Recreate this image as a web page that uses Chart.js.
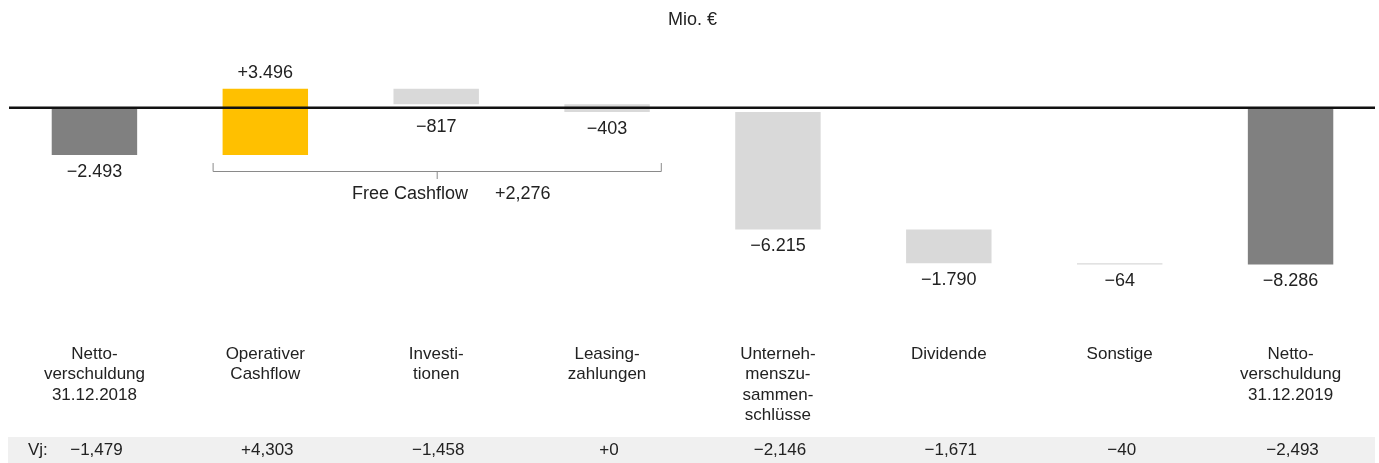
<!DOCTYPE html>
<html><head><meta charset="utf-8">
<script src="https://cdn.jsdelivr.net/npm/chart.js@4/dist/chart.umd.min.js"></script>
<style>html,body{margin:0;padding:0;background:#fff}#wrap{position:relative;width:1379px;height:463px}</style>
</head><body><div id="wrap"><canvas id="c"></canvas></div>
<script>
// ---- data ----
const categories = [
  ["Netto-","verschuldung","31.12.2018"],
  ["Operativer","Cashflow"],
  ["Investi-","tionen"],
  ["Leasing-","zahlungen"],
  ["Unterneh-","menszu-","sammen-","schlüsse"],
  ["Dividende"],
  ["Sonstige"],
  ["Netto-","verschuldung","31.12.2019"]
];
const changes = [-2493, 3496, -817, -403, -6215, -1790, -64, -8286];
const isTotal = [true, false, false, false, false, false, false, true];
const valueLabels = ["−2.493","+3.496","−817","−403","−6.215","−1.790","−64","−8.286"];
const priorYear = ["−1,479","+4,303","−1,458","+0","−2,146","−1,671","−40","−2,493"];
const priorYearLabel = "Vj:";
const freeCashflowLabel = "Free Cashflow";
const freeCashflowValue = "+2,276";
const freeCashflowRange = [1, 3];
const unitLabel = "Mio. €";

// ---- build ----
let running = 0;
const ranges = changes.map((d, i) => {
  if (isTotal[i]) { running = d; return [0, d]; }
  const s = running; running += d; return [s, running];
});
const colorTotal = "#808080", colorUp = "#FFC000", colorDown = "#D9D9D9";
const barColors = changes.map((d, i) => isTotal[i] ? colorTotal : (d > 0 ? colorUp : colorDown));

const FONT = "'Liberation Sans', Arial, sans-serif";
const TEXT = "#222222";

const overlay = {
  id: "overlay",
  beforeDraw(chart) {
    const { ctx, chartArea: a } = chart;
    ctx.save();
    ctx.fillStyle = "#F0F0F0";
    ctx.fillRect(a.left - 1, 437, a.right - a.left, 26);
    ctx.restore();
  },
  afterDatasetsDraw(chart) {
    const { ctx, chartArea: a, scales: { x, y } } = chart;
    const meta = chart.getDatasetMeta(0);
    const base = y.getPixelForValue(0);
    ctx.save();
    // baseline
    ctx.strokeStyle = "#111";
    ctx.lineWidth = 2.4;
    ctx.beginPath(); ctx.moveTo(a.left, base); ctx.lineTo(a.right - 1, base); ctx.stroke();

    ctx.fillStyle = TEXT;
    ctx.textAlign = "center";
    ctx.textBaseline = "middle";
    ctx.font = "18px " + FONT;
    // unit
    ctx.fillText(unitLabel, (a.left + a.right) / 2, 20);

    // value labels
    ranges.forEach((r, i) => {
      const cx = x.getPixelForValue(i);
      const top = y.getPixelForValue(Math.max(r[0], r[1]));
      const bot = y.getPixelForValue(Math.min(r[0], r[1]));
      let ly;
      if (changes[i] > 0) ly = top - 16;
      else ly = Math.max(bot, base + 2) + 17;
      ctx.fillText(valueLabels[i], cx, ly);
    });

    // category labels
    ctx.font = "17px " + FONT;
    categories.forEach((lines, i) => {
      const cx = x.getPixelForValue(i);
      lines.forEach((t, j) => ctx.fillText(t, cx, 354 + j * 20.5));
    });

    // prior year row
    ctx.font = "17px " + FONT;
    priorYear.forEach((t, i) => ctx.fillText(t, x.getPixelForValue(i) + 2, 450));
    ctx.textAlign = "left";
    ctx.fillText(priorYearLabel, 28, 450);

    // Free cashflow bracket
    const bw = meta.data[0].width;
    const l = x.getPixelForValue(freeCashflowRange[0]) - bw / 2 - 10;
    const rr = x.getPixelForValue(freeCashflowRange[1]) + bw / 2 + 12;
    const m = (l + rr) / 2;
    const by = 171;
    ctx.strokeStyle = "#8a8a8a";
    ctx.lineWidth = 1;
    ctx.beginPath();
    ctx.moveTo(l + 0.5, 163); ctx.lineTo(l + 0.5, by + 0.5); ctx.lineTo(rr - 0.5, by + 0.5); ctx.lineTo(rr - 0.5, 163);
    ctx.moveTo(m, by); ctx.lineTo(m, 179);
    ctx.stroke();
    ctx.font = "18px " + FONT;
    ctx.textAlign = "left";
    ctx.fillText(freeCashflowLabel, 352, 194);
    ctx.fillText(freeCashflowValue, 495, 194);
    ctx.restore();
  }
};

new Chart(document.getElementById("c"), {
  type: "bar",
  data: {
    labels: categories,
    datasets: [{
      data: ranges,
      backgroundColor: barColors,
      borderWidth: 0,
      borderSkipped: false,
      barPercentage: 0.5,
      categoryPercentage: 1.0
    }]
  },
  options: {
    responsive: true,
    maintainAspectRatio: false,
    animation: false,
    devicePixelRatio: 1,
    layout: { padding: { left: 9, right: 3, top: 70, bottom: 185 } },
    plugins: { legend: { display: false }, tooltip: { enabled: false } },
    scales: {
      x: { display: false, offset: true },
      y: { display: false, min: -9000, max: 2000 }
    }
  },
  plugins: [overlay]
});
</script>
</body></html>
